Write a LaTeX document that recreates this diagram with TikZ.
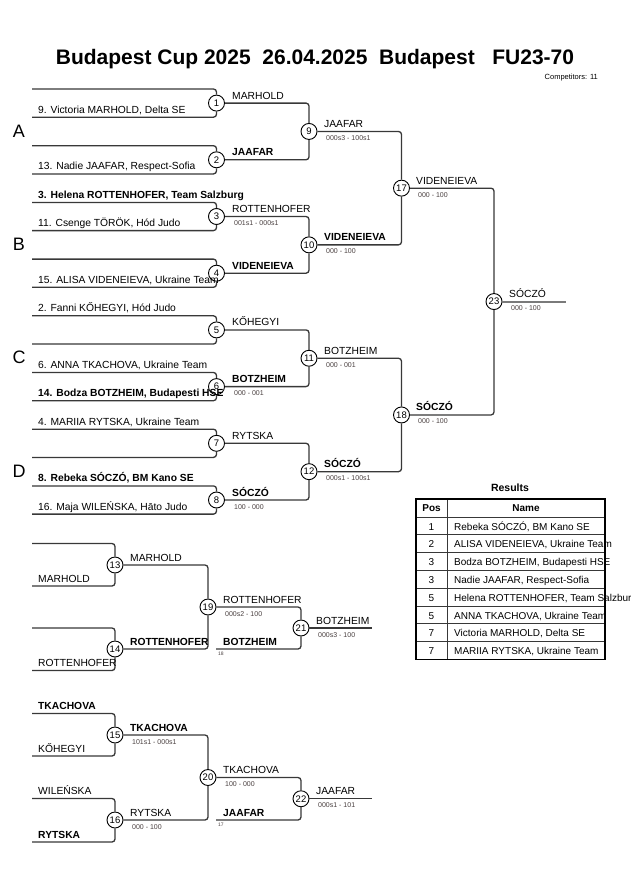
\documentclass[tikz,border=0pt]{standalone}
\usepackage{fontspec}
\setmainfont{Liberation Sans}
\definecolor{lc}{HTML}{383838}
\definecolor{scc}{HTML}{4A4040}
\definecolor{fin}{HTML}{7A7A7A}
\tikzset{
  ln/.style={line width=1.3pt, draw=lc, rounded corners=3pt},
  cn/.style={circle, draw=black, line width=0.9pt, fill=white, minimum size=16pt, inner sep=0pt, font=\fontsize{9.5}{10}\selectfont},
  nm/.style={anchor=base west, inner sep=0pt, font=\fontsize{10.3}{12}\selectfont},
  nmb/.style={anchor=base west, inner sep=0pt, font=\fontsize{10.3}{12}\selectfont\bfseries},
  sc/.style={anchor=base west, inner sep=0pt, text=scc, font=\fontsize{7}{8}\selectfont},
  tiny/.style={anchor=base west, inner sep=0pt, text=scc, font=\fontsize{5}{6}\selectfont},
  pool/.style={inner sep=0pt, font=\fontsize{18}{20}\selectfont},
  tc/.style={anchor=base, inner sep=0pt, font=\fontsize{10}{12}\selectfont},
  tn/.style={anchor=base west, inner sep=0pt, font=\fontsize{10}{12}\selectfont},
  th/.style={anchor=base, inner sep=0pt, font=\fontsize{10}{12}\selectfont\bfseries},
}
\begin{document}
\begin{tikzpicture}[x=1pt,y=-1pt]
\useasboundingbox (0,0) rectangle (630,891);
\fill[white] (0,0) rectangle (630,891);

% title
\node[anchor=base, inner sep=0pt, font=\fontsize{21}{24}\selectfont\bfseries] (title) at (315,65) {Budapest Cup 2025\ \ 26.04.2025\ \ Budapest\ \ \ FU23-70};
\node[anchor=base east, inner sep=0pt, font=\fontsize{7.5}{9}\selectfont] (comp) at (598,79) {Competitors: 11};

% pools
\node[pool] (pA) at (19,131) {A};
\node[pool] (pB) at (19,244) {B};
\node[pool] (pC) at (19,357) {C};
\node[pool] (pD) at (19,471) {D};

% circles main
\node[cn] (c1) at (216.5,103.1) {1};
\node[cn] (c2) at (216.5,159.8) {2};
\node[cn] (c3) at (216.5,216.5) {3};
\node[cn] (c4) at (216.5,273.2) {4};
\node[cn] (c5) at (216.5,329.9) {5};
\node[cn] (c6) at (216.5,386.6) {6};
\node[cn] (c7) at (216.5,443.3) {7};
\node[cn] (c8) at (216.5,500.0) {8};
\node[cn] (c9) at (309,131.45) {9};
\node[cn] (c10) at (309,244.85) {10};
\node[cn] (c11) at (309,358.25) {11};
\node[cn] (c12) at (309,471.65) {12};
\node[cn] (c17) at (401.5,188.15) {17};
\node[cn] (c18) at (401.5,414.95) {18};
\node[cn] (c23) at (494,301.55) {23};

% slot coordinates main
\coordinate (a1) at (32,89);    \coordinate (b1) at (32,117.2);
\coordinate (a2) at (32,145.7); \coordinate (b2) at (32,173.9);
\coordinate (a3) at (32,202.4); \coordinate (b3) at (32,230.6);
\coordinate (a4) at (32,259.1); \coordinate (b4) at (32,287.3);
\coordinate (a5) at (32,315.8); \coordinate (b5) at (32,344.0);
\coordinate (a6) at (32,372.5); \coordinate (b6) at (32,400.7);
\coordinate (a7) at (32,429.2); \coordinate (b7) at (32,457.4);
\coordinate (a8) at (32,485.9); \coordinate (b8) at (32,514.1);
\coordinate (o23) at (566,301.55);

\foreach \i in {1,...,8}{
  \draw[ln] (a\i) -| (c\i.north);
  \draw[ln] (b\i) -| (c\i.south);
}
\draw[ln] (c1.east) -| (c9.north);  \draw[ln] (c2.east) -| (c9.south);
\draw[ln] (c3.east) -| (c10.north); \draw[ln] (c4.east) -| (c10.south);
\draw[ln] (c5.east) -| (c11.north); \draw[ln] (c6.east) -| (c11.south);
\draw[ln] (c7.east) -| (c12.north); \draw[ln] (c8.east) -| (c12.south);
\draw[ln] (c9.east) -| (c17.north); \draw[ln] (c10.east) -| (c17.south);
\draw[ln] (c11.east) -| (c18.north); \draw[ln] (c12.east) -| (c18.south);
\draw[ln] (c17.east) -| (c23.north); \draw[ln] (c18.east) -| (c23.south);
\draw[line width=2pt, draw=fin] (c23.east) -- (o23);

% entrant names
\node[nm] (n1b) at (38,113.2) {9. Victoria MARHOLD, Delta SE};
\node[nm] (n2b) at (38,169.9) {13. Nadie JAAFAR, Respect-Sofia};
\node[nmb] (n3a) at (38,198.4) {3. Helena ROTTENHOFER, Team Salzburg};
\node[nm] (n3b) at (38,226.6) {11. Csenge TÖRÖK, Hód Judo};
\node[nm] (n4b) at (38,283.3) {15. ALISA VIDENEIEVA, Ukraine Team};
\node[nm] (n5a) at (38,311.8) {2. Fanni KŐHEGYI, Hód Judo};
\node[nm] (n6a) at (38,368.5) {6. ANNA TKACHOVA, Ukraine Team};
\node[nmb] (n6b) at (38,396.7) {14. Bodza BOTZHEIM, Budapesti HSE};
\node[nm] (n7a) at (38,425.2) {4. MARIIA RYTSKA, Ukraine Team};
\node[nmb] (n8a) at (38,481.9) {8. Rebeka SÓCZÓ, BM Kano SE};
\node[nm] (n8b) at (38,510.1) {16. Maja WILEŃSKA, Hāto Judo};

% winners round 1
\node[nm] (w1) at (232,99.1) {MARHOLD};
\node[nmb] (w2) at (232,155.8) {JAAFAR};
\node[nm] (w3) at (232,212.5) {ROTTENHOFER};
\node[sc] (s3) at (234,225.5) {001s1 - 000s1};
\node[nmb] (w4) at (232,269.2) {VIDENEIEVA};
\node[nm] (w5) at (232,325.9) {KŐHEGYI};
\node[nmb] (w6) at (232,382.6) {BOTZHEIM};
\node[sc] (s6) at (234,395.6) {000 - 001};
\node[nm] (w7) at (232,439.3) {RYTSKA};
\node[nmb] (w8) at (232,496) {SÓCZÓ};
\node[sc] (s8) at (234,509) {100 - 000};
% round 2
\node[nm] (w9) at (324,127.45) {JAAFAR};
\node[sc] (s9) at (326,140.45) {000s3 - 100s1};
\node[nmb] (w10) at (324,240.85) {VIDENEIEVA};
\node[sc] (s10) at (326,253.85) {000 - 100};
\node[nm] (w11) at (324,354.25) {BOTZHEIM};
\node[sc] (s11) at (326,367.25) {000 - 001};
\node[nmb] (w12) at (324,467.65) {SÓCZÓ};
\node[sc] (s12) at (326,480.65) {000s1 - 100s1};
% round 3
\node[nm] (w17) at (416,184.15) {VIDENEIEVA};
\node[sc] (s17) at (418,197.15) {000 - 100};
\node[nmb] (w18) at (416,410.95) {SÓCZÓ};
\node[sc] (s18) at (418,423.95) {000 - 100};
% final
\node[nm] (w23) at (509,297.55) {SÓCZÓ};
\node[sc] (s23) at (511,310.55) {000 - 100};

% ---------- repechage ----------
\node[cn] (c13) at (115,565) {13};
\node[cn] (c14) at (115,649) {14};
\node[cn] (c19) at (208,607) {19};
\node[cn] (c21) at (301,628) {21};
\node[cn] (c15) at (115,735) {15};
\node[cn] (c16) at (115,820) {16};
\node[cn] (c20) at (208,777.5) {20};
\node[cn] (c22) at (301,798.75) {22};

\coordinate (r13a) at (32,543.5); \coordinate (r13b) at (32,586);
\coordinate (r14a) at (32,628);   \coordinate (r14b) at (32,670.5);
\coordinate (r15a) at (32,713.5); \coordinate (r15b) at (32,756);
\coordinate (r16a) at (32,798.5); \coordinate (r16b) at (32,842);
\coordinate (r18) at (216,649);   \coordinate (r17) at (216,820);
\coordinate (o21) at (372,628);   \coordinate (o22) at (372,798.75);

\foreach \i in {13,14,15,16}{
  \draw[ln] (r\i a) -| (c\i.north);
  \draw[ln] (r\i b) -| (c\i.south);
}
\draw[ln] (c13.east) -| (c19.north); \draw[ln] (c14.east) -| (c19.south);
\draw[ln] (c19.east) -| (c21.north); \draw[ln] (r18) -| (c21.south);
\draw[ln] (c21.east) -- (o21);
\draw[ln] (c15.east) -| (c20.north); \draw[ln] (c16.east) -| (c20.south);
\draw[ln] (c20.east) -| (c22.north); \draw[ln] (r17) -| (c22.south);
\draw[ln] (c22.east) -- (o22);

\node[nm] (q13b) at (38,582) {MARHOLD};
\node[nm] (q14b) at (38,666.5) {ROTTENHOFER};
\node[nm] (x13) at (130,561) {MARHOLD};
\node[nmb] (x14) at (130,645) {ROTTENHOFER};
\node[nm] (x19) at (223,603) {ROTTENHOFER};
\node[sc] (y19) at (225,616) {000s2 - 100};
\node[nmb] (x18) at (223,645) {BOTZHEIM};
\node[tiny] (t18) at (218,655) {18};
\node[nm] (x21) at (316,624) {BOTZHEIM};
\node[sc] (y21) at (318,637) {000s3 - 100};

\node[nmb] (q15a) at (38,709.5) {TKACHOVA};
\node[nm] (q15b) at (38,752) {KŐHEGYI};
\node[nm] (q16a) at (38,794.5) {WILEŃSKA};
\node[nmb] (q16b) at (38,838) {RYTSKA};
\node[nmb] (x15) at (130,731) {TKACHOVA};
\node[sc] (y15) at (132,744) {101s1 - 000s1};
\node[nm] (x16) at (130,816) {RYTSKA};
\node[sc] (y16) at (132,829) {000 - 100};
\node[nm] (x20) at (223,773.5) {TKACHOVA};
\node[sc] (y20) at (225,786.5) {100 - 000};
\node[nmb] (x17) at (223,816) {JAAFAR};
\node[tiny] (t17) at (218,826) {17};
\node[nm] (x22) at (316,794.75) {JAAFAR};
\node[sc] (y22) at (318,807.75) {000s1 - 101};

% ---------- results ----------
\node[anchor=base, inner sep=0pt, font=\fontsize{10.5}{12}\selectfont\bfseries] (res) at (510,491) {Results};
\foreach \y in {517,534.8,552.6,570.4,588.2,606,623.8,641.6}
  \draw[line width=0.9pt, draw=lc] (416,\y) -- (605,\y);
\draw[line width=0.9pt, draw=lc] (447,499) -- (447,659.4);
\draw[line width=1.8pt, draw=black] (416,499) rectangle (605,659.4);
\node[th] (hp) at (431.5,511.7) {Pos};
\node[th] (hn) at (526,511.7) {Name};
\node[tc] (p1) at (431.5,530) {1}; \node[tn] (t1) at (454,530) {Rebeka SÓCZÓ, BM Kano SE};
\node[tc] (p2) at (431.5,547.8) {2}; \node[tn] (t2) at (454,547.8) {ALISA VIDENEIEVA, Ukraine Team};
\node[tc] (p3) at (431.5,565.6) {3}; \node[tn] (t3) at (454,565.6) {Bodza BOTZHEIM, Budapesti HSE};
\node[tc] (p4) at (431.5,583.4) {3}; \node[tn] (t4) at (454,583.4) {Nadie JAAFAR, Respect-Sofia};
\node[tc] (p5) at (431.5,601.2) {5}; \node[tn] (t5) at (454,601.2) {Helena ROTTENHOFER, Team Salzburg};
\node[tc] (p6) at (431.5,619) {5}; \node[tn] (t6) at (454,619) {ANNA TKACHOVA, Ukraine Team};
\node[tc] (p7) at (431.5,636.8) {7}; \node[tn] (t7) at (454,636.8) {Victoria MARHOLD, Delta SE};
\node[tc] (p8) at (431.5,654.6) {7}; \node[tn] (t8) at (454,654.6) {MARIIA RYTSKA, Ukraine Team};
\end{tikzpicture}
\end{document}
